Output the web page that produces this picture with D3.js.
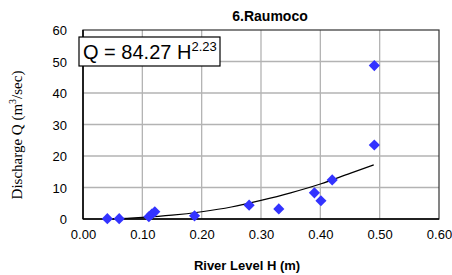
<!DOCTYPE html>
<html>
<head>
<meta charset="utf-8">
<script src="https://cdn.jsdelivr.net/npm/d3@7"></script>
<style>
  body { margin: 0; background: #fff; }
  svg { display: block; }
</style>
</head>
<body>
<svg id="chart" width="452" height="275"></svg>
<script>
const levelH = [0.041, 0.061, 0.111, 0.116, 0.121, 0.188, 0.280, 0.330, 0.390, 0.401, 0.420, 0.491, 0.491]
const dischargeQ = [0.1, 0.1, 0.7, 1.6, 2.3, 1.0, 4.4, 3.2, 8.3, 5.8, 12.4, 23.5, 48.7]

// fitted curve as drawn on the chart
const trendH = [0.05, 0.08, 0.10, 0.15, 0.20, 0.25, 0.30, 0.35, 0.40, 0.45, 0.49]
const trendQ = [0.1, 0.3, 0.5, 1.2, 2.3, 3.8, 5.9, 8.3, 11.1, 14.5, 17.2]

const xTicks = [0, 0.1, 0.2, 0.3, 0.4, 0.5, 0.6]
const yTicks = [0, 10, 20, 30, 40, 50, 60]

const svg = d3.select("#chart")
const m = { left: 83, right: 439, top: 30, bottom: 219 }

const x = d3.scaleLinear().domain([0, 0.6]).range([m.left, m.right])
const y = d3.scaleLinear().domain([0, 60]).range([m.bottom, m.top])

// grid
svg.append("g").selectAll("line").data(xTicks.slice(1, -1)).join("line")
    .attr("x1", d => x(d)).attr("x2", d => x(d))
    .attr("y1", m.top).attr("y2", m.bottom)
    .attr("stroke", "#b3b3b3").attr("stroke-width", 1.3)
svg.append("g").selectAll("line").data(yTicks.slice(1, -1)).join("line")
    .attr("x1", m.left).attr("x2", m.right)
    .attr("y1", d => y(d)).attr("y2", d => y(d))
    .attr("stroke", "#b3b3b3").attr("stroke-width", 1.3)

// frame
svg.append("rect")
    .attr("x", m.left).attr("y", m.top)
    .attr("width", m.right - m.left).attr("height", m.bottom - m.top)
    .attr("fill", "none").attr("stroke", "#333").attr("stroke-width", 1.2)
svg.append("line")
    .attr("x1", m.left).attr("x2", m.right).attr("y1", m.bottom).attr("y2", m.bottom)
    .attr("stroke", "#000").attr("stroke-width", 1.5)
svg.append("line")
    .attr("x1", m.left).attr("x2", m.left).attr("y1", m.top).attr("y2", m.bottom)
    .attr("stroke", "#000").attr("stroke-width", 1.5)

// tick labels
const xAxis = svg.append("g")
    .attr("transform", `translate(0,${m.bottom + 6})`)
    .call(d3.axisBottom(x).tickValues(xTicks).tickFormat(d3.format(".2f")).tickSize(0).tickPadding(5))
const yAxis = svg.append("g")
    .attr("transform", `translate(${m.left - 8},0)`)
    .call(d3.axisLeft(y).tickValues(yTicks).tickSize(0).tickPadding(8))
xAxis.select(".domain").remove()
yAxis.select(".domain").remove()
svg.selectAll(".tick text")
    .attr("font-family", "Liberation Sans, Arial, sans-serif")
    .attr("font-size", 13).attr("fill", "#000")
yAxis.selectAll(".tick text").attr("dy", "0.35em")

// trend line
const line = d3.line().x(d => x(d[0])).y(d => y(d[1])).curve(d3.curveMonotoneX)
svg.append("path")
    .datum(trendH.map((h, i) => [h, trendQ[i]]))
    .attr("d", line)
    .attr("fill", "none").attr("stroke", "#000").attr("stroke-width", 1.2)

// points
const diamond = d3.symbol().type(d3.symbolSquare).size(62)
svg.append("g").selectAll("path").data(levelH).join("path")
    .attr("d", diamond)
    .attr("transform", (d, i) => `translate(${x(d)},${y(dischargeQ[i])}) rotate(45)`)
    .attr("fill", "#3333ff")

// equation box
svg.append("rect")
    .attr("x", 79).attr("y", 37).attr("width", 141).attr("height", 29)
    .attr("fill", "#fff").attr("stroke", "#000").attr("stroke-width", 1.2)
const eq = svg.append("text")
    .attr("x", 83).attr("y", 59)
    .attr("font-family", "Liberation Sans, Arial, sans-serif")
    .attr("font-size", 20).attr("fill", "#000")
eq.append("tspan").text("Q = 84.27 H")
eq.append("tspan").attr("font-size", 13).attr("dy", -8).text("2.23")

// titles
svg.append("text")
    .attr("x", 270).attr("y", 21).attr("text-anchor", "middle")
    .attr("font-family", "Liberation Sans, Arial, sans-serif")
    .attr("font-weight", "bold").attr("font-size", 14)
    .text("6.Raumoco")
svg.append("text")
    .attr("x", 247).attr("y", 270).attr("text-anchor", "middle")
    .attr("font-family", "Liberation Sans, Arial, sans-serif")
    .attr("font-weight", "bold").attr("font-size", 13)
    .text("River Level H (m)")
const yl = svg.append("text")
    .attr("transform", "translate(22,135) rotate(-90)")
    .attr("text-anchor", "middle")
    .attr("font-family", "Liberation Serif, Times New Roman, serif")
    .attr("font-size", 15)
yl.append("tspan").text("Discharge Q (m")
yl.append("tspan").attr("font-size", 10).attr("dy", -6).text("3")
yl.append("tspan").attr("dy", 6).text("/sec)")
</script>
</body>
</html>
